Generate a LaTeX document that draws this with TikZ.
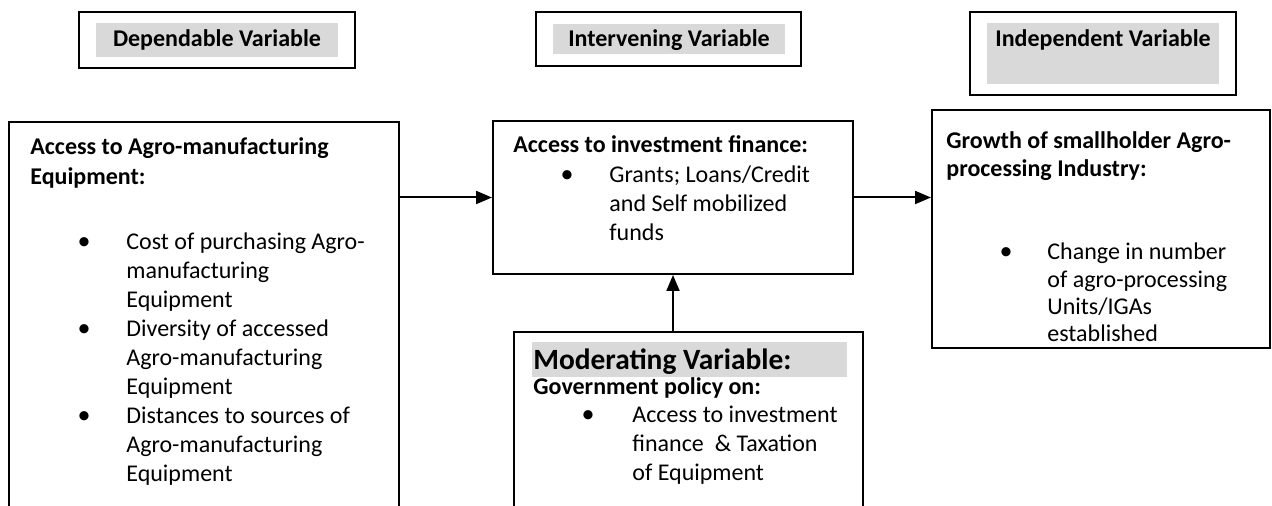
\documentclass[tikz,border=0pt]{standalone}
\usepackage{fontspec}
\setmainfont{Carlito}
\usepackage{xcolor}
\usepackage{tikz}
\usetikzlibrary{arrows.meta,positioning,fit}
\definecolor{shade}{RGB}{217,217,217}

\begin{document}
\begin{tikzpicture}[
  x=0.5pt,y=-0.5pt,
  font=\fontsize{12}{14.5}\selectfont,
  box/.style={draw,line width=1pt,inner sep=0pt},
  bar/.style={fill=shade,inner sep=0pt},
  head/.style={anchor=base,inner sep=0pt,font=\fontsize{12}{14.5}\selectfont\bfseries},
  title/.style={anchor=base west,inner sep=0pt,align=left,font=\fontsize{12}{15}\selectfont\bfseries},
  item/.style={anchor=base west,inner sep=0pt,align=left},
  dot/.style={anchor=base,inner sep=0pt,font=\fontsize{13}{13}\selectfont},
  arr/.style={-{Triangle[length=8pt,width=6.5pt]},line width=1pt},
]
\useasboundingbox (0,0) rectangle (1272,506);

\node[box,fit={(79,12) (355,68)}] (depbox) {};
\node[bar,fit={(96,23) (338,57)}] (depbar) {};
\node[head] (deplab) at (217,47) {Dependable Variable};

\node[box,fit={(536,12) (801,66)}] (intbox) {};
\node[bar,fit={(553,24) (785,54)}] (intbar) {};
\node[head] (intlab) at (669,47) {Intervening Variable};

\node[box,fit={(970,12) (1236,95)}] (indbox) {};
\node[bar,fit={(987,23) (1219,84)}] (indbar) {};
\node[head] (indlab) at (1103,47) {Independent Variable};

\node[box,fit={(9,122) (399,515)}] (dep) {};
\node[title] (deptitle) at (30,185) {Access to Agro-manufacturing\\Equipment:};
\node[dot] (depdot1) at (84,250) {•};
\node[item] (depitem1) at (126,308) {Cost of purchasing Agro-\\manufacturing\\Equipment};
\node[dot] (depdot2) at (84,337) {•};
\node[item] (depitem2) at (126,395) {Diversity of accessed\\Agro-manufacturing\\Equipment};
\node[dot] (depdot3) at (84,424) {•};
\node[item] (depitem3) at (126,482) {Distances to sources of\\Agro-manufacturing\\Equipment};

\node[box,fit={(493,121) (853,274)}] (inter) {};
\node[title] (intertitle) at (513,153) {Access to investment finance:};
\node[dot] (interdot) at (567,183) {•};
\node[item] (interitem) at (609,241) {Grants; Loans/Credit\\and Self mobilized\\funds};

\node[box,fit={(932,110) (1270,348)}] (indep) {};
\node[title,font=\fontsize{12}{14}\selectfont\bfseries] (indeptitle) at (946,177) {Growth of smallholder Agro-\\processing Industry:};
\node[dot] (indepdot) at (1006,260) {•};
\node[item,font=\fontsize{12}{13.6}\selectfont] (indepitem) at (1047,341.6) {Change in number\\of agro-processing\\Units/IGAs\\established};

\node[box,fit={(514,332) (863,515)}] (mod) {};
\node[bar,fit={(532,342) (847,377)}] (modbar) {};
\node[title,font=\fontsize{14.7}{16}\selectfont\bfseries] (modlab) at (533,370) {Moderating Variable:};
\node[title] (modtitle) at (533,395) {Government policy on:};
\node[dot] (moddot) at (588,423) {•};
\node[item] (moditem) at (632,481) {Access to investment\\finance\ \ \& Taxation\\of Equipment};

\draw[arr] (dep.east |- inter.west) -- (inter.west);
\draw[arr] (inter.east) -- (indep.west |- inter.east);
\draw[arr] (mod.north -| inter.south) -- (inter.south);
\end{tikzpicture}
\end{document}
